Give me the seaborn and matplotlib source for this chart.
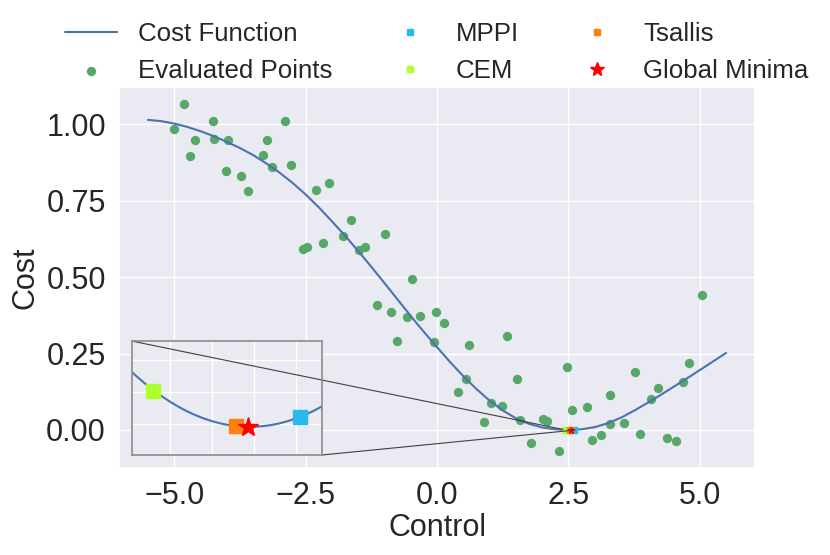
import matplotlib
matplotlib.use("Agg")
import matplotlib.pyplot as plt
import seaborn as sns
from matplotlib.lines import Line2D
from matplotlib.ticker import MultipleLocator
from mpl_toolkits.axes_grid1.inset_locator import mark_inset

# ---- data ----
curve_x = [-5.5, -5.25, -5.0, -4.75, -4.5, -4.25, -4.0, -3.75, -3.5, -3.25, -3.0, -2.75,
           -2.5, -2.25, -2.0, -1.75, -1.5, -1.25, -1.0, -0.75, -0.5, -0.25, 0.0,
           0.25, 0.5, 0.75, 1.0, 1.25, 1.5, 1.75, 2.0, 2.25, 2.5, 2.75, 3.0,
           3.25, 3.5, 3.75, 4.0, 4.25, 4.5, 4.75, 5.0, 5.25, 5.5]
curve_y = [1.015, 1.011, 1.003, 0.992, 0.978, 0.962, 0.943, 0.923, 0.900, 0.873, 0.843, 0.809,
           0.771, 0.729, 0.683, 0.636, 0.586, 0.534, 0.481, 0.427, 0.373, 0.321, 0.271,
           0.222, 0.176, 0.134, 0.096, 0.064, 0.038, 0.020, 0.008, 0.002, 0.000, 0.002, 0.009,
           0.022, 0.040, 0.063, 0.088, 0.114, 0.141, 0.168, 0.196, 0.224, 0.252]

pts_x = [-4.82, -5.01, -4.26, -2.89, -4.60, -4.25, -3.97, -3.24, -4.70, -3.31,
         -3.13, -2.78, -4.02, -3.73, -3.59, -2.31, -2.05, -1.64, -1.79, -0.99,
         -2.54, -2.48, -2.16, -1.48, -1.37, -0.48, -1.15, -0.88, -0.58, -0.32,
         -0.02, 0.13, -0.77, -0.06, 0.60, 1.33, 0.55, 1.52, 0.40, 1.03,
         1.24, 0.90, 1.58, 2.02, 2.09, 1.79, 2.33, 2.47, 2.56, 2.86,
         3.29, 3.56, 2.95, 3.12, 3.30, 3.76, 3.87, 4.08, 4.21, 4.37,
         4.54, 4.68, 4.80, 5.04]
pts_y = [1.066, 0.986, 1.013, 1.012, 0.949, 0.951, 0.948, 0.950, 0.896, 0.899,
         0.861, 0.866, 0.849, 0.830, 0.781, 0.784, 0.807, 0.687, 0.635, 0.640,
         0.591, 0.598, 0.613, 0.589, 0.598, 0.495, 0.408, 0.387, 0.370, 0.374,
         0.387, 0.349, 0.291, 0.289, 0.278, 0.307, 0.166, 0.167, 0.123, 0.089,
         0.077, 0.025, 0.033, 0.036, 0.028, -0.044, -0.068, 0.205, 0.065, 0.076,
         0.018, 0.021, -0.033, -0.017, 0.114, 0.189, -0.012, 0.100, 0.136, -0.025,
         -0.035, 0.158, 0.218, 0.442]

method_names = ["MPPI", "CEM", "Tsallis"]
method_x = [2.605, 2.430, 2.529]
method_y = [0.00012, 0.00052, -0.00003]
method_colors = ["#29b9ec", "#adff2f", "#ff7f0e"]
minima_x = [2.543]
minima_y = [-0.00004]

inset_curve_x = [2.40, 2.41, 2.42, 2.43, 2.44, 2.45, 2.46, 2.47, 2.48, 2.49, 2.50, 2.51,
                 2.52, 2.53, 2.54, 2.55, 2.56, 2.57, 2.58, 2.59, 2.60, 2.61, 2.62, 2.63, 2.64]
inset_curve_y = [0.000870, 0.000749, 0.000636, 0.000532, 0.000437, 0.000351, 0.000273,
                 0.000203, 0.000143, 0.000091, 0.000048, 0.000013, -0.000013, -0.000030,
                 -0.000039, -0.000039, -0.000030, -0.000013, 0.000013, 0.000048, 0.000091,
                 0.000143, 0.000203, 0.000273, 0.000351]
inset_xlim = (2.404, 2.631)
inset_ylim = (-0.00048, 0.0013)

# ---- style ----
sns.set_theme(style="darkgrid")
plt.rcParams["font.family"] = ["Liberation Sans", "DejaVu Sans"]
plt.rcParams["xtick.labelsize"] = 22
plt.rcParams["ytick.labelsize"] = 22
plt.rcParams["axes.labelsize"] = 22
plt.rcParams["legend.fontsize"] = 18.6

curve_color = "#4C72B0"
pts_color = "#55A868"

fig = plt.figure(figsize=(8.3, 5.55), dpi=100)
ax = fig.add_axes([119 / 830, 1 - 468 / 555, 636 / 830, 381 / 555])

sns.lineplot(x=curve_x, y=curve_y, ax=ax, color=curve_color, lw=1.5, legend=False,
             errorbar=None)
curve_line = ax.lines[0]
n_before = len(ax.collections)
sns.scatterplot(x=pts_x, y=pts_y, ax=ax, color=pts_color, s=45, linewidth=0, legend=False)
pts_coll = ax.collections[n_before]

method_handles = []
for name, mx, my, c in zip(method_names, method_x, method_y, method_colors):
    h, = ax.plot([mx], [my], "s", color=c, ms=4.5, label=name)
    method_handles.append(h)
ax.plot(minima_x, minima_y, "*", color="red", ms=5)

ax.set_xlabel("Control", labelpad=1)
ax.set_ylabel("Cost")

# ---- inset ----
axins = ax.inset_axes([0.0197, 0.0341, 0.2995, 0.2992])
sns.lineplot(x=inset_curve_x, y=inset_curve_y, ax=axins, color=curve_color, lw=1.5,
             legend=False, errorbar=None)
for mx, my, c in zip(method_x, method_y, method_colors):
    axins.plot([mx], [my], "s", color=c, ms=10)
axins.plot(minima_x, minima_y, "*", color="red", ms=15)
axins.set_xlim(*inset_xlim)
axins.set_ylim(*inset_ylim)
axins.xaxis.set_major_locator(MultipleLocator(0.05))
axins.yaxis.set_major_locator(MultipleLocator(0.0005))
axins.tick_params(labelbottom=False, labelleft=False, length=0)
axins.set_xlabel("")
axins.set_ylabel("")
for sp in axins.spines.values():
    sp.set_visible(True)
    sp.set_color("0.55")
    sp.set_linewidth(1.2)
mark_inset(ax, axins, loc1=2, loc2=4, fc="none", ec="0.25", lw=0.8)

# ---- legend ----
star_proxy = Line2D([], [], marker="*", ls="none", color="red", ms=10)
handles = [curve_line, pts_coll] + method_handles + [star_proxy]
labels = ["Cost Function", "Evaluated Points", "MPPI", "CEM", "Tsallis", "Global Minima"]
ax.legend(handles, labels, ncol=3, loc="lower center", bbox_to_anchor=(0.5, 0.983),
          frameon=False, borderaxespad=0)

fig.savefig("out.png", dpi=100)
